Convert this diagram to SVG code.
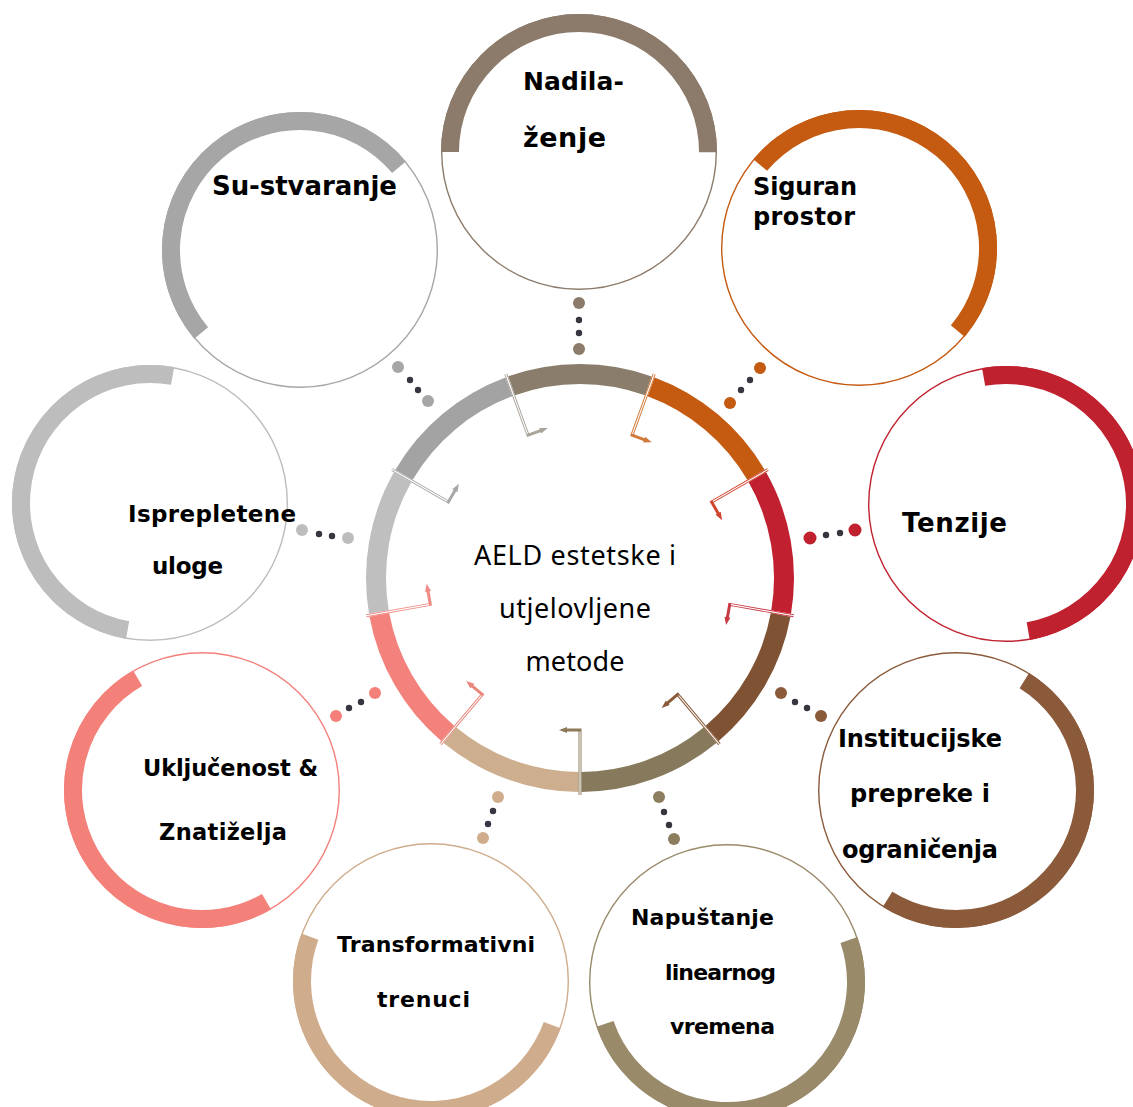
<svg xmlns="http://www.w3.org/2000/svg" xmlns:xlink="http://www.w3.org/1999/xlink" width="1133" height="1107" viewBox="0 0 1133 1107">
<style>
  .lbl { font-family: "DejaVu Sans", "Liberation Sans", sans-serif; font-weight: bold; fill: #000; }
  .ctr { font-family: "Noto Sans", "Open Sans", "Liberation Sans", sans-serif; font-size: 27px; fill: #000; text-anchor: middle; }
  .band { fill: none; stroke-width: 18; stroke-dasharray: 405.3 1000; }
  .thin { fill: none; stroke-width: 1.4; }
  .seg { fill: none; stroke-width: 20; stroke-dasharray: 139.4 2000; }
</style>
<defs>
  <g id="br">
    <path d="M797,578 H732 V593" fill="none" stroke="currentColor" stroke-width="3"/>
    <path d="M800,578 H733.4" fill="none" stroke="#fff" stroke-width="1.1"/>
    <polygon points="729,591 735,591 732,599" fill="currentColor"/>
  </g>
</defs>
<rect width="1133" height="1107" fill="#fff"/>

<g id="connectors">
  <g fill="#8c7b6b"><circle cx="579" cy="303" r="6"/><circle cx="579" cy="349" r="6"/></g>
  <g fill="#c55a11"><circle cx="760" cy="368" r="6"/><circle cx="730" cy="403" r="6"/></g>
  <g fill="#c0212f"><circle cx="810" cy="538" r="6.5"/><circle cx="855" cy="530" r="6.5"/></g>
  <g fill="#8b5a3a"><circle cx="781" cy="693" r="6"/><circle cx="821" cy="716" r="6"/></g>
  <g fill="#8c7d5e"><circle cx="659" cy="797" r="6"/><circle cx="674" cy="839" r="6"/></g>
  <g fill="#cfac8b"><circle cx="498" cy="797" r="6"/><circle cx="483" cy="838" r="6"/></g>
  <g fill="#f4807a"><circle cx="375" cy="693" r="6"/><circle cx="336" cy="716" r="6"/></g>
  <g fill="#bdbdbd"><circle cx="302" cy="530" r="6"/><circle cx="348" cy="538" r="6"/></g>
  <g fill="#a6a6a6"><circle cx="398" cy="367" r="6"/><circle cx="428" cy="401" r="6"/></g>
  <g fill="#363640">
    <circle cx="579" cy="320" r="3.2"/><circle cx="579" cy="333" r="3.2"/>
    <circle cx="750" cy="380" r="3.2"/><circle cx="741" cy="390" r="3.2"/>
    <circle cx="826" cy="535" r="3.2"/><circle cx="840" cy="533" r="3.2"/>
    <circle cx="795" cy="702" r="3.2"/><circle cx="807" cy="708" r="3.2"/>
    <circle cx="664" cy="812" r="3.2"/><circle cx="669" cy="825" r="3.2"/>
    <circle cx="493" cy="811" r="3.2"/><circle cx="488" cy="824" r="3.2"/>
    <circle cx="361" cy="702" r="3.2"/><circle cx="349" cy="708" r="3.2"/>
    <circle cx="319" cy="534" r="3.2"/><circle cx="332" cy="536" r="3.2"/>
    <circle cx="410" cy="380" r="3.2"/><circle cx="418" cy="390" r="3.2"/>
  </g>
</g>

<g id="center">
  <circle class="seg" cx="580" cy="578" r="204" stroke="#a3a3a3" transform="rotate(-149.58 580 578)"/>
  <circle class="seg" cx="580" cy="578" r="204" stroke="#8b7d6b" transform="rotate(-109.58 580 578)"/>
  <circle class="seg" cx="580" cy="578" r="204" stroke="#c55a11" transform="rotate(-69.58 580 578)"/>
  <circle class="seg" cx="580" cy="578" r="204" stroke="#c0202f" transform="rotate(-29.58 580 578)"/>
  <circle class="seg" cx="580" cy="578" r="204" stroke="#7f5233" transform="rotate(10.42 580 578)"/>
  <circle class="seg" cx="580" cy="578" r="204" stroke="#877a5c" transform="rotate(50.42 580 578)"/>
  <circle class="seg" cx="580" cy="578" r="204" stroke="#cdae8e" transform="rotate(90.42 580 578)"/>
  <circle class="seg" cx="580" cy="578" r="204" stroke="#f4827c" transform="rotate(130.42 580 578)"/>
  <circle class="seg" cx="580" cy="578" r="204" stroke="#bfbfbf" transform="rotate(170.42 580 578)"/>
  <use xlink:href="#br" href="#br" transform="rotate(-110 580 578)" color="#a9a39a"/>
  <use xlink:href="#br" href="#br" transform="rotate(-70 580 578)" color="#d27a3a"/>
  <use xlink:href="#br" href="#br" transform="rotate(-30 580 578)" color="#d0452f"/>
  <use xlink:href="#br" href="#br" transform="rotate(10 580 578)" color="#c83a45"/>
  <use xlink:href="#br" href="#br" transform="rotate(50 580 578)" color="#8b5a3a"/>
  <use xlink:href="#br" href="#br" transform="rotate(90 580 578)" color="#8c7a5a"/>
  <use xlink:href="#br" href="#br" transform="rotate(130 580 578)" color="#e8867a"/>
  <use xlink:href="#br" href="#br" transform="rotate(170 580 578)" color="#f08a85"/>
  <use xlink:href="#br" href="#br" transform="rotate(210 580 578)" color="#a8a8a8"/>
  <text class="ctr" x="575" y="565" textLength="202">AELD estetske i</text>
  <text class="ctr" x="575" y="618" textLength="152">utjelovljene</text>
  <text class="ctr" x="575" y="671" textLength="99">metode</text>
</g>

<g id="nadilazenje">
  <circle class="thin" cx="579" cy="152" r="137.3" stroke="#8c7b6b"/>
  <circle class="band" cx="579" cy="152" r="129" stroke="#8c7b6b" transform="rotate(180 579 152)"/>
  <text class="lbl" x="523" y="90" font-size="25" textLength="101">Nadila-</text>
  <text class="lbl" x="523" y="147" font-size="27" textLength="83">ženje</text>
</g>

<g id="siguran-prostor">
  <circle class="thin" cx="859" cy="248" r="137.3" stroke="#c55a11"/>
  <circle class="band" cx="859" cy="248" r="129" stroke="#c55a11" transform="rotate(220 859 248)"/>
  <text class="lbl" x="753" y="195" font-size="24" textLength="104">Siguran</text>
  <text class="lbl" x="753" y="225" font-size="24" textLength="102">prostor</text>
</g>

<g id="tenzije">
  <circle class="thin" cx="1006" cy="504" r="137.3" stroke="#c0212f"/>
  <circle class="band" cx="1006" cy="504" r="129" stroke="#c0212f" transform="rotate(260 1006 504)"/>
  <text class="lbl" x="902" y="532" font-size="26" textLength="105">Tenzije</text>
</g>

<g id="institucijske">
  <circle class="thin" cx="956" cy="790" r="137.3" stroke="#8b5a3a"/>
  <circle class="band" cx="956" cy="790" r="129" stroke="#8b5a3a" transform="rotate(302 956 790)"/>
  <text class="lbl" x="838" y="747" font-size="24" textLength="164">Institucijske</text>
  <text class="lbl" x="850" y="802" font-size="24" textLength="140">prepreke i</text>
  <text class="lbl" x="842" y="858" font-size="24" textLength="156">ograničenja</text>
</g>

<g id="napustanje">
  <circle class="thin" cx="727" cy="982" r="137.3" stroke="#998a6a"/>
  <circle class="band" cx="727" cy="982" r="129" stroke="#998a6a" transform="rotate(341 727 982)"/>
  <text class="lbl" x="631" y="925" font-size="22" textLength="143">Napuštanje</text>
  <text class="lbl" x="665" y="980" font-size="22" textLength="111">linearnog</text>
  <text class="lbl" x="670" y="1034" font-size="22" textLength="105">vremena</text>
</g>

<g id="transformativni">
  <circle class="thin" cx="431" cy="981" r="137.3" stroke="#cfac8b"/>
  <circle class="band" cx="431" cy="981" r="129" stroke="#cfac8b" transform="rotate(20 431 981)"/>
  <text class="lbl" x="337" y="952" font-size="22" textLength="198">Transformativni</text>
  <text class="lbl" x="377" y="1007" font-size="22" textLength="93">trenuci</text>
</g>

<g id="ukljucenost">
  <circle class="thin" cx="202" cy="790" r="137.3" stroke="#f4807a"/>
  <circle class="band" cx="202" cy="790" r="129" stroke="#f4807a" transform="rotate(60 202 790)"/>
  <text class="lbl" x="143" y="776" font-size="22.5" textLength="175">Uključenost &amp;</text>
  <text class="lbl" x="159" y="840" font-size="22.5" textLength="128">Znatiželja</text>
</g>

<g id="isprepletene">
  <circle class="thin" cx="150" cy="503" r="137.3" stroke="#bdbdbd"/>
  <circle class="band" cx="150" cy="503" r="129" stroke="#bdbdbd" transform="rotate(100 150 503)"/>
  <text class="lbl" x="128" y="522" font-size="23" textLength="168">Isprepletene</text>
  <text class="lbl" x="152" y="574" font-size="23" textLength="71">uloge</text>
</g>

<g id="su-stvaranje">
  <circle class="thin" cx="300" cy="250" r="137.3" stroke="#a6a6a6"/>
  <circle class="band" cx="300" cy="250" r="129" stroke="#a6a6a6" transform="rotate(140 300 250)"/>
  <text class="lbl" x="212" y="195" font-size="26" textLength="185">Su-stvaranje</text>
</g>
</svg>
